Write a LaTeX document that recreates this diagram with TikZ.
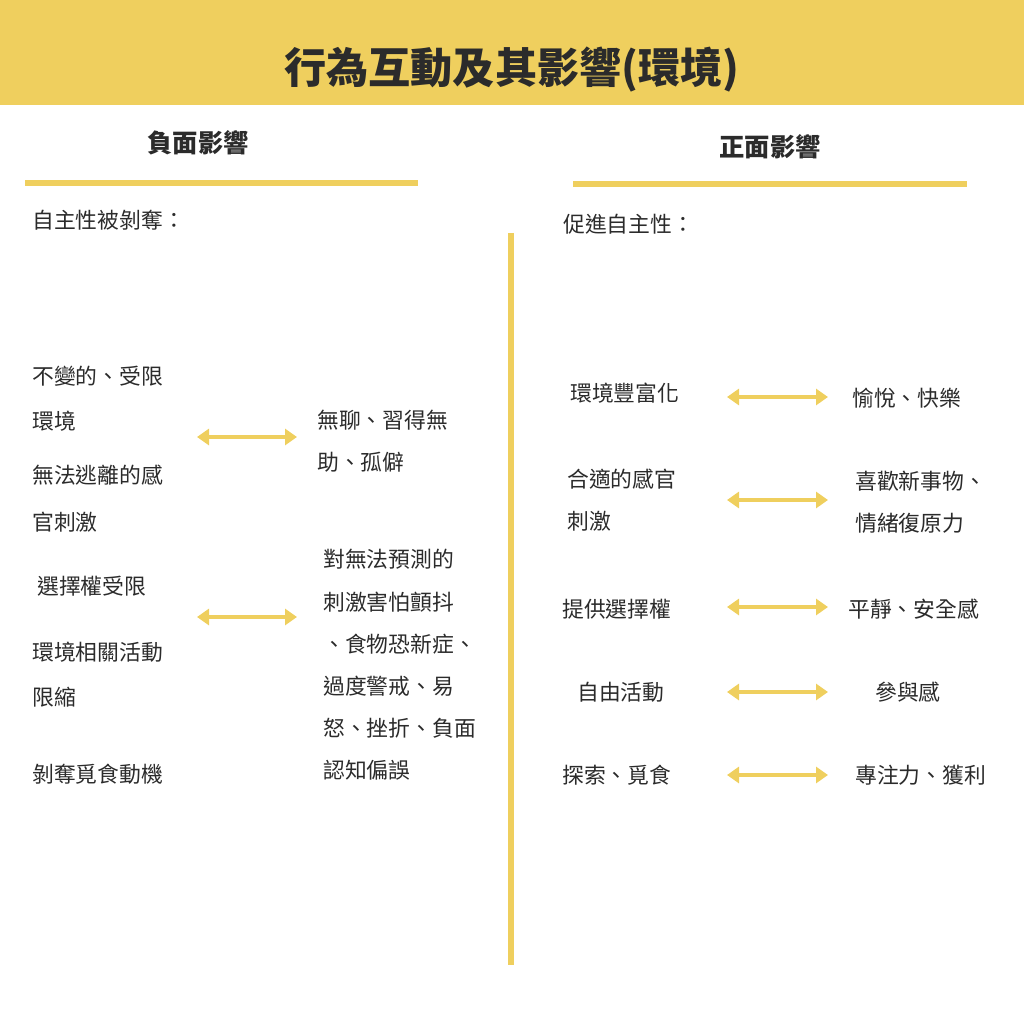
\documentclass[tikz,border=0pt]{standalone}
\usepackage{fontspec}
\newfontfamily\cjk{Noto Sans CJK TC}
\usetikzlibrary{arrows.meta,positioning}
\definecolor{mustard}{HTML}{EFCF5E}
\definecolor{ink}{HTML}{2B2B2B}
\begin{document}
\begin{tikzpicture}[
    x=0.025cm, y=-0.025cm,
    txt/.style={anchor=west, inner sep=0pt, text=ink, font=\cjk\fontsize{15.5}{30}\selectfont, align=left},
    head/.style={inner sep=0pt, text=ink, font=\cjk\bfseries\fontsize{18}{22}\selectfont},
    link/.style={{Triangle[length=3mm,width=4mm]}-{Triangle[length=3mm,width=4mm]}, line width=1.1mm, mustard}
]
\useasboundingbox (0,0) rectangle (1024,1024);
% Title bar
\fill[mustard] (0,0) rectangle (1024,105);
\node[inner sep=0pt, text=ink, font=\cjk\bfseries\fontsize{30}{34}\selectfont] (title) at (512,70) {行為互動及其影響(環境)};

% Headers
\node[head] (neg) at (198,143) {負面影響};
\node[head] (pos) at (770,147) {正面影響};
\draw[mustard, line width=1.6mm] (25,183) -- (418,183);
\draw[mustard, line width=1.6mm] (573,184) -- (967,184);
\draw[mustard, line width=1.3mm] (511,233) -- (511,965);

% Left column
\node[txt] (lhead) at (32,220) {自主性被剝奪：};
\node[txt] (l1) at (32,376) {不變的、受限};
\node[txt] (l2) at (32,421) {環境};
\node[txt] (l3) at (32,475) {無法逃離的感};
\node[txt] (l4) at (32,522) {官刺激};
\node[txt] (l5) at (37,586) {選擇權受限};
\node[txt] (l6) at (32,652) {環境相關活動};
\node[txt] (l7) at (32,697) {限縮};
\node[txt] (l8) at (32,774) {剝奪覓食動機};
\node[txt] (r1) at (317,441) {無聊、習得無\\助、孤僻};
\node[txt] (r2) at (323,665) {對無法預測的\\刺激害怕顫抖\\、食物恐新症、\\過度警戒、易\\怒、挫折、負面\\認知偏誤};
\coordinate (la1) at (197,437); \coordinate (lb1) at (297,437);
\coordinate (la2) at (197,617); \coordinate (lb2) at (297,617);
\draw[link] (la1) -- (lb1);
\draw[link] (la2) -- (lb2);

% Right column
\node[txt] (rhead) at (563,224) {促進自主性：};
\node[txt] (p1) at (570,393) {環境豐富化};
\node[txt] (p2) at (567,500) {合適的感官\\刺激};
\node[txt] (p3) at (562,609) {提供選擇權};
\node[txt] (p4) at (577,692) {自由活動};
\node[txt] (p5) at (562,775) {探索、覓食};
\node[txt] (q1) at (852,398) {愉悅、快樂};
\node[txt] (q2) at (855,502) {喜歡新事物、\\情緒復原力};
\node[txt] (q3) at (848,609) {平靜、安全感};
\node[txt] (q4) at (875,692) {參與感};
\node[txt] (q5) at (855,775) {專注力、獲利};
\foreach \y/\n in {397/1,500/2,607/3,692/4,775/5}{
  \coordinate (pa\n) at (727,\y); \coordinate (pb\n) at (828,\y);
  \draw[link] (pa\n) -- (pb\n);
}
\end{tikzpicture}
\end{document}
